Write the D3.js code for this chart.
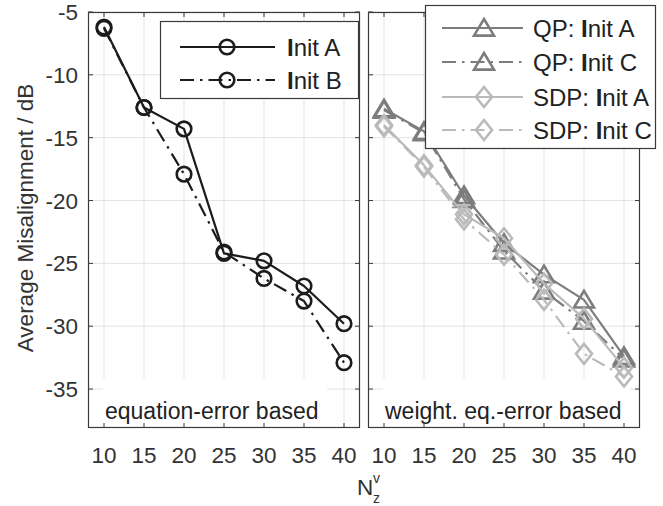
<!DOCTYPE html>
<html><head><meta charset="utf-8">
<script src="https://cdn.jsdelivr.net/npm/d3@7/dist/d3.min.js"></script>
<style>body{margin:0;background:#fff}svg{display:block}text{font-family:"Liberation Sans",Arial,Helvetica,sans-serif}</style>
</head><body><svg id="c" width="663" height="506"></svg>
<script>
const nz = [10, 15, 20, 25, 30, 35, 40];
const xTicks = [10, 15, 20, 25, 30, 35, 40];
const yTicks = [-35, -30, -25, -20, -15, -10, -5];
const eqInitA = [-6.2, -12.6, -14.3, -24.2, -24.8, -26.8, -29.8];
const eqInitB = [-6.3, -12.6, -17.9, -24.1, -26.2, -28.0, -32.9];
const qpInitA = [-12.7, -14.5, -19.6, -23.4, -25.9, -27.9, -32.4];
const qpInitC = [-12.8, -14.6, -19.9, -24.0, -27.2, -29.6, -32.6];
const sdpInitA = [-14.0, -17.2, -21.1, -23.0, -26.6, -29.4, -33.3];
const sdpInitC = [-14.1, -17.3, -21.5, -24.3, -27.9, -32.2, -34.0];
const leftNames = ["Init A", "Init B"];
const rightNames = ["QP: Init A", "QP: Init C", "SDP: Init A", "SDP: Init C"];
const panelTitles = ["equation-error based", "weight. eq.-error based"];
const yLabel = "Average Misalignment / dB";

const svg = d3.select("#c");
const FS = 22.5, LFS = 24, TXT = "#333";
const dashDot = "14,6,2.5,6";
const cBlack = "#1c1c1c", cQP = "#7d7d7d", cSDP = "#bababa";

const y = d3.scaleLinear().domain([-38.1, -5]).range([428, 12]);
const xL = d3.scaleLinear().domain([8, 42]).range([88, 360]);
const xR = d3.scaleLinear().domain([8, 42]).range([368, 640]);

function marker(g, type, cx, cy, color, sw) {
  if (type === "o") {
    g.append("circle").attr("cx", cx).attr("cy", cy).attr("r", 7.3)
      .attr("fill", "none").attr("stroke", color).attr("stroke-width", sw);
  } else if (type === "^") {
    const w = 10, h = 9;
    g.append("path").attr("d", `M${cx},${cy - h}L${cx + w},${cy + h * 0.85}L${cx - w},${cy + h * 0.85}Z`)
      .attr("fill", "none").attr("stroke", color).attr("stroke-width", sw).attr("stroke-linejoin", "miter");
  } else {
    const w = 8, h = 10;
    g.append("path").attr("d", `M${cx},${cy - h}L${cx + w},${cy}L${cx},${cy + h}L${cx - w},${cy}Z`)
      .attr("fill", "none").attr("stroke", color).attr("stroke-width", sw);
  }
}

function panel(x) {
  const g = svg.append("g");
  const [x0, x1] = x.range(), [y1, y0] = y.range();
  g.selectAll(".gx").data(xTicks).join("line")
    .attr("x1", d => x(d)).attr("x2", d => x(d)).attr("y1", y0).attr("y2", y1)
    .attr("stroke", "#e3e3e3").attr("stroke-width", 1);
  g.selectAll(".gy").data(yTicks).join("line")
    .attr("x1", x0).attr("x2", x1).attr("y1", d => y(d)).attr("y2", d => y(d))
    .attr("stroke", "#e3e3e3").attr("stroke-width", 1);
  return g;
}

function frame(x) {
  const g = svg.append("g");
  const [x0, x1] = x.range(), [y1, y0] = y.range();
  const tl = 5, col = "#3a3a3a";
  g.selectAll(".tb").data(xTicks).join("line")
    .attr("x1", d => x(d)).attr("x2", d => x(d)).attr("y1", y1).attr("y2", y1 - tl).attr("stroke", col);
  g.selectAll(".tt").data(xTicks).join("line")
    .attr("x1", d => x(d)).attr("x2", d => x(d)).attr("y1", y0).attr("y2", y0 + tl).attr("stroke", col);
  g.selectAll(".tl").data(yTicks).join("line")
    .attr("x1", x0).attr("x2", x0 + tl).attr("y1", d => y(d)).attr("y2", d => y(d)).attr("stroke", col);
  g.selectAll(".tr").data(yTicks).join("line")
    .attr("x1", x1).attr("x2", x1 - tl).attr("y1", d => y(d)).attr("y2", d => y(d)).attr("stroke", col);
  g.append("rect").attr("x", x0 + 0.5).attr("y", y0 + 0.5).attr("width", x1 - x0 - 1).attr("height", y1 - y0 - 1)
    .attr("fill", "none").attr("stroke", col).attr("stroke-width", 1.2);
  g.selectAll(".xl").data(xTicks).join("text")
    .attr("x", d => x(d)).attr("y", 463).attr("text-anchor", "middle")
    .attr("font-size", FS).attr("fill", TXT).text(d => d);
}

function series(x, vals, color, dash, mk, lw, msw) {
  const g = svg.append("g");
  const pts = nz.map((n, i) => [x(n), y(vals[i])]);
  g.append("path").attr("d", d3.line()(pts)).attr("fill", "none")
    .attr("stroke", color).attr("stroke-width", lw)
    .attr("stroke-dasharray", dash || null).attr("stroke-linejoin", "round");
  pts.forEach(p => marker(g, mk, p[0], p[1], color, msw));
}

function titleBox(bx0, bx1, text) {
  svg.append("rect").attr("x", bx0).attr("y", 378.5).attr("width", bx1 - bx0).attr("height", 48.5).attr("fill", "#fff");
  svg.append("text").attr("x", bx0 + 2).attr("y", 419).attr("font-size", FS + 0.5).attr("fill", "#222").text(text);
}

panel(xL);
titleBox(103, 327, panelTitles[0]);
series(xL, eqInitB, cBlack, dashDot, "o", 2.2, 2.6);
series(xL, eqInitA, cBlack, null, "o", 2.2, 2.6);
frame(xL);

panel(xR);
titleBox(383, 630, panelTitles[1]);
series(xR, qpInitA, cQP, null, "^", 2.2, 2.6);
series(xR, qpInitC, cQP, dashDot, "^", 2.2, 2.6);
series(xR, sdpInitA, cSDP, null, "d", 2.2, 2.6);
series(xR, sdpInitC, cSDP, dashDot, "d", 2.2, 2.6);
frame(xR);

svg.selectAll(".yl").data(yTicks).join("text")
  .attr("x", 78).attr("y", d => y(d) + 8).attr("text-anchor", "end")
  .attr("font-size", FS).attr("fill", TXT).text(d => d);

svg.append("text").attr("transform", "translate(33,218) rotate(-90)")
  .attr("text-anchor", "middle").attr("font-size", FS).attr("fill", TXT).text(yLabel);

svg.append("text").attr("x", 357).attr("y", 495).attr("font-size", FS).attr("fill", TXT).text("N");
svg.append("text").attr("x", 373).attr("y", 483).attr("font-size", 14).attr("fill", TXT).text("v");
svg.append("text").attr("x", 373).attr("y", 503).attr("font-size", 14).attr("fill", TXT).text("z");

function legendText(g, x, yy, name) {
  const t = g.append("text").attr("x", x).attr("y", yy + 8.5).attr("font-size", LFS).attr("fill", "#222");
  const i = name.indexOf("Init");
  t.append("tspan").text(name.slice(0, i));
  t.append("tspan").attr("font-weight", "bold").text("I");
  t.append("tspan").text(name.slice(i + 1));
}

{
  const g = svg.append("g");
  g.append("rect").attr("x", 160.5).attr("y", 21.5).attr("width", 198).attr("height", 77)
    .attr("fill", "#fff").attr("stroke", "#3a3a3a").attr("stroke-width", 1.2);
  const ys = [47, 80], dashes = [null, dashDot];
  leftNames.forEach((n, i) => {
    g.append("line").attr("x1", 180).attr("x2", 275).attr("y1", ys[i]).attr("y2", ys[i])
      .attr("stroke", cBlack).attr("stroke-width", 2.2).attr("stroke-dasharray", dashes[i]);
    marker(g, "o", 227, ys[i], cBlack, 2.6);
    legendText(g, 287, ys[i], n);
  });
}
{
  const g = svg.append("g");
  g.append("rect").attr("x", 425.5).attr("y", 5.5).attr("width", 230).attr("height", 143)
    .attr("fill", "#fff").attr("stroke", "#3a3a3a").attr("stroke-width", 1.2);
  const ys = [28, 62, 97, 130];
  const cols = [cQP, cQP, cSDP, cSDP], dashes = [null, dashDot, null, dashDot], mks = ["^", "^", "d", "d"];
  rightNames.forEach((n, i) => {
    g.append("line").attr("x1", 442).attr("x2", 523).attr("y1", ys[i]).attr("y2", ys[i])
      .attr("stroke", cols[i]).attr("stroke-width", 2.2).attr("stroke-dasharray", dashes[i]);
    marker(g, mks[i], 484, ys[i], cols[i], 2.6);
    legendText(g, 533, ys[i], n);
  });
}
</script></body></html>
